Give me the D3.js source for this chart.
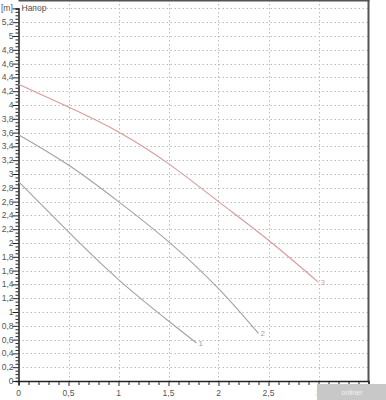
<!DOCTYPE html>
<html>
<head>
<meta charset="utf-8">
<script src="https://cdn.jsdelivr.net/npm/d3@7"></script>
<style>
  body { margin: 0; background: #fff; }
  svg { display: block; font-family: "Liberation Sans", Arial, sans-serif; }
</style>
</head>
<body>
<div id="chart"></div>
<script>
// curve data: flow [m3/h] -> head [m]
const curve1 = [[0, 2.89], [0.5, 2.16], [1, 1.47], [1.5, 0.87], [1.78, 0.55]];
const curve2 = [[0, 3.57], [0.5, 3.13], [1, 2.6], [1.5, 2.02], [2, 1.34], [2.4, 0.69]];
const curve3 = [[0, 4.3], [0.5, 3.97], [1, 3.61], [1.5, 3.15], [2, 2.6], [2.5, 2.04], [3.0, 1.43]];
const curveNames = ["1", "2", "3"];
const curveColors = ["#a2a2a2", "#a2a2a2", "#d99a9a"];

const xTickLabels = [0, 0.5, 1, 1.5, 2, 2.5, 3];
const yTickLabels = d3.range(0, 5.21, 0.2).map(v => +v.toFixed(1));
const yUnit = "[m]";
const seriesTitle = "Напор";

const W = 386, H = 400;
const fmt = v => String(v).replace(".", ",");

const svg = d3.select("#chart").append("svg")
  .attr("width", W).attr("height", H);

const x = d3.scaleLinear().domain([0, 3.5]).range([18.5, 368.5]);
const y = d3.scaleLinear().domain([0, 5.4]).range([381, 8.4]);

// dotted grid
const gridY = d3.range(0.2, 5.41, 0.2);
svg.append("g").selectAll("line").data(gridY).join("line")
  .attr("x1", x(0)).attr("x2", x(3.5))
  .attr("y1", d => Math.round(y(d)) + 0.5).attr("y2", d => Math.round(y(d)) + 0.5)
  .attr("stroke", "#bcbcbc").attr("stroke-dasharray", "1.5,2.5");
svg.append("g").selectAll("line").data(d3.range(0.5, 3.01, 0.5)).join("line")
  .attr("x1", d => Math.round(x(d)) + 0.5).attr("x2", d => Math.round(x(d)) + 0.5)
  .attr("y1", 0).attr("y2", y(0))
  .attr("stroke", "#bcbcbc").attr("stroke-dasharray", "1.5,2.5");

// frame: top and right
svg.append("line").attr("x1", x(0)).attr("x2", x(3.5) + 1).attr("y1", 0.5).attr("y2", 0.5)
  .attr("stroke", "#555").attr("stroke-width", 2);
svg.append("line").attr("x1", x(3.5)).attr("x2", x(3.5)).attr("y1", 0).attr("y2", y(0))
  .attr("stroke", "#555").attr("stroke-width", 2);

// left axis with minor ticks every 0.05
const yAxis = d3.axisLeft(y)
  .tickValues(d3.range(0, 5.41, 0.05).map(v => +v.toFixed(2)))
  .tickSize(3).tickFormat("");
const gy = svg.append("g").attr("transform", `translate(${x(0)},0)`).call(yAxis);
gy.selectAll(".tick line").filter(d => Math.abs(d * 5 - Math.round(d * 5)) < 1e-6).attr("x2", -6);
gy.select(".domain").attr("stroke", "#222").attr("stroke-width", 1.5);
gy.selectAll(".tick line").attr("stroke", "#222");

svg.append("g").selectAll("text").data(yTickLabels).join("text")
  .attr("x", x(0) - 5).attr("y", d => y(d) + 3)
  .attr("text-anchor", "end").attr("font-size", 8.5).attr("fill", "#555")
  .text(fmt);
svg.append("text").attr("x", 1).attr("y", y(5.4) + 3)
  .attr("font-size", 8.5).attr("fill", "#555").text(yUnit);
svg.append("text").attr("x", x(0) + 3).attr("y", y(5.4) + 3)
  .attr("font-size", 8.5).attr("fill", "#555").text(seriesTitle);

// bottom axis with minor ticks every 0.1
const xAxis = d3.axisBottom(x)
  .tickValues(d3.range(0, 3.51, 0.1).map(v => +v.toFixed(1)))
  .tickSize(4).tickFormat("");
const gx = svg.append("g").attr("transform", `translate(0,${y(0)})`).call(xAxis);
gx.selectAll(".tick line").filter(d => Math.abs(d * 2 - Math.round(d * 2)) < 1e-6).attr("y2", 5);
gx.select(".domain").attr("stroke", "#222").attr("stroke-width", 1.5);
gx.selectAll(".tick line").attr("stroke", "#222");

svg.append("g").selectAll("text").data(xTickLabels).join("text")
  .attr("x", d => x(d)).attr("y", y(0) + 15)
  .attr("text-anchor", "middle").attr("font-size", 8.5).attr("fill", "#555")
  .text(fmt);

// curves
const line = d3.line().x(d => x(d[0])).y(d => y(d[1])).curve(d3.curveNatural);
[curve1, curve2, curve3].forEach((c, i) => {
  svg.append("path").datum(c)
    .attr("fill", "none").attr("stroke", curveColors[i]).attr("stroke-width", 1.1)
    .attr("d", line);
  const last = c[c.length - 1];
  svg.append("text").attr("x", x(last[0]) + 2).attr("y", y(last[1]) + 3)
    .attr("font-size", 8).attr("fill", curveColors[i]).text(curveNames[i]);
});

// watermark box bottom-right
svg.append("rect").attr("x", 317).attr("y", 384).attr("width", 69).attr("height", 16)
  .attr("fill", "#c8c8c8");
svg.append("text").attr("x", 352).attr("y", 394.5).attr("text-anchor", "middle")
  .attr("font-size", 7).attr("fill", "#f2f2f2").text("onliner");
</script>
</body>
</html>
